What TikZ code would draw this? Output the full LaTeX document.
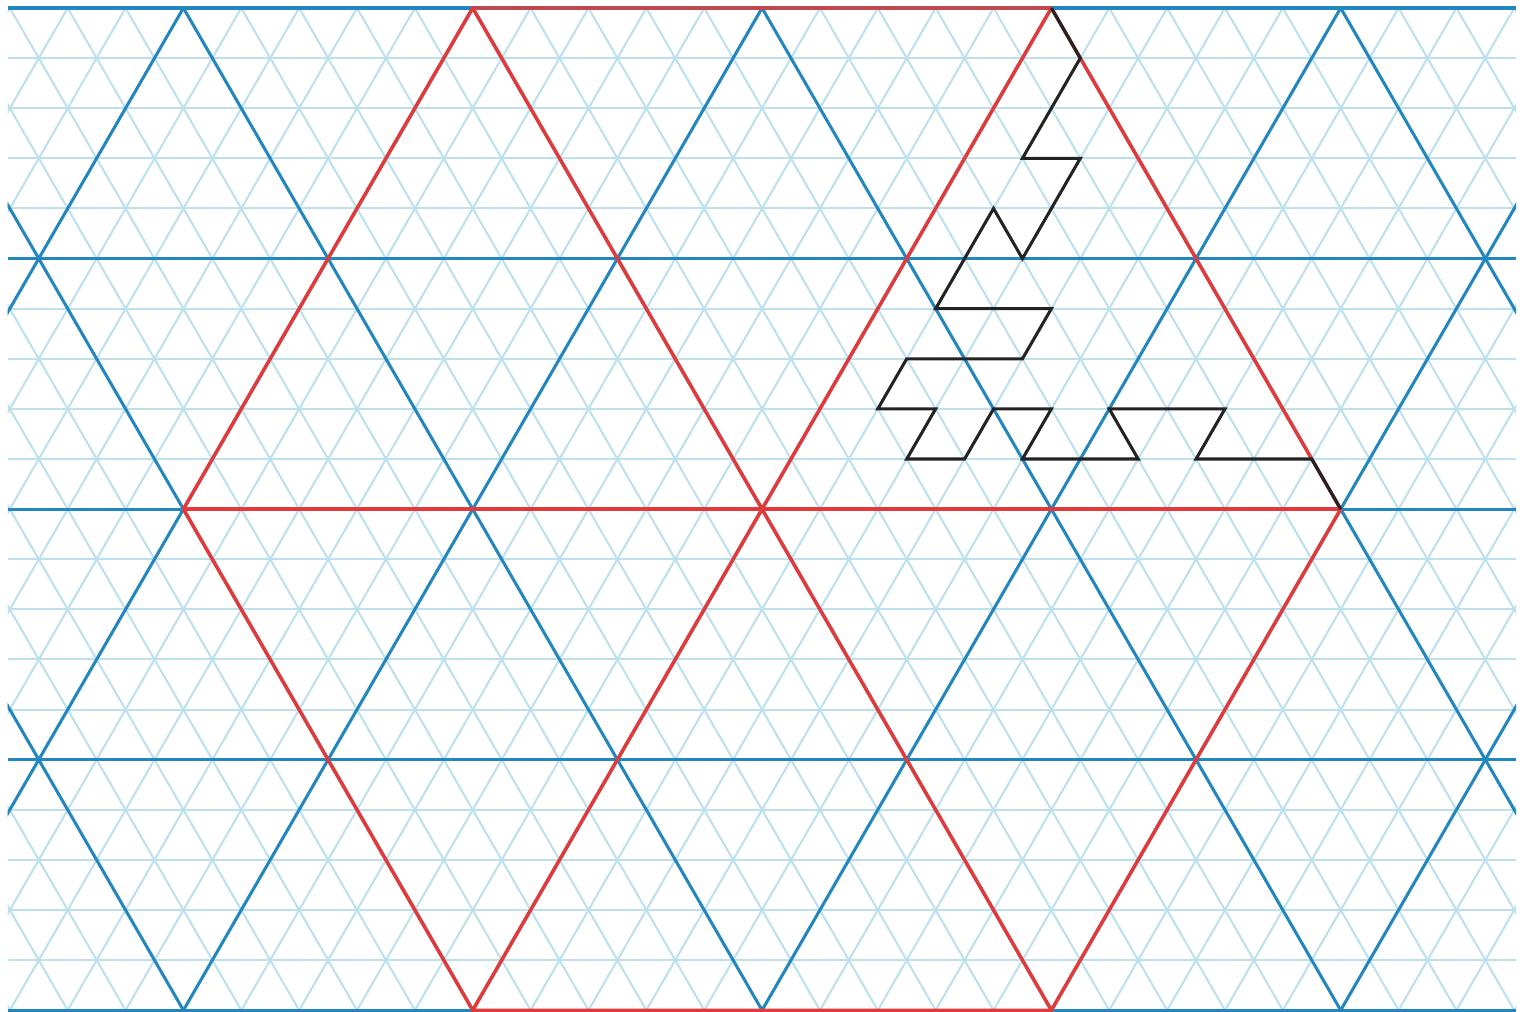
\documentclass[tikz,border=0pt]{standalone}
\definecolor{gridlight}{RGB}{188,224,236}
\definecolor{gridmajor}{RGB}{36,134,190}
\definecolor{hexred}{RGB}{226,58,58}
\definecolor{curveblack}{RGB}{35,35,35}
\begin{document}
\begin{tikzpicture}[
    x=1cm, y=0.8660254cm,
    minor/.style={gridlight, line width=1pt},
    major/.style={gridmajor, line width=1.5pt},
    hexline/.style={hexred, line width=1.7pt, line join=round},
    curve/.style={curveblack, line width=1.5pt}
]
\useasboundingbox (-13.17,-10.03) rectangle (13.22,10.16);

% Triangular grid
\begin{scope}
\clip (-13.04,-10.05) rectangle (13.03,10.05);
\foreach \k in {-10,...,10}
    \draw[minor] (-13.04,\k) -- (13.03,\k);
\foreach \a in {-19,...,19} {
    \draw[minor] (\a-5,-10) -- (\a+5,10);
    \draw[minor] (\a+5,-10) -- (\a-5,10);
}
% Big triangles
\foreach \k in {-10,-5,...,10}
    \draw[major] (-13.04,\k) -- (13.03,\k);
\foreach \a in {-20,-15,...,20} {
    \draw[major] (\a-5,-10) -- (\a+5,10);
    \draw[major] (\a+5,-10) -- (\a-5,10);
}
\end{scope}

% Hexagon
\coordinate (nw) at (-5,10);
\coordinate (ne) at (5,10);
\coordinate (e) at (10,0);
\coordinate (se) at (5,-10);
\coordinate (sw) at (-5,-10);
\coordinate (w) at (-10,0);
\draw[hexline] (nw) -- (ne) -- (e) -- (se) -- (sw) -- (w) -- cycle;
\draw[hexline] (nw) -- (se);
\draw[hexline] (ne) -- (sw);
\draw[hexline] (w) -- (e);

% Curve from ne to e
\draw[curve] (ne) -- (5.5,9) -- (4.5,7) -- (5.5,7) -- (4.5,5) -- (4,6)
    -- (3,4) -- (5,4) -- (4.5,3) -- (2.5,3) -- (2,2) -- (3,2) -- (2.5,1)
    -- (3.5,1) -- (4,2) -- (5,2) -- (4.5,1) -- (6.5,1) -- (6,2) -- (8,2)
    -- (7.5,1) -- (9.5,1) -- (e);

\end{tikzpicture}
\end{document}
